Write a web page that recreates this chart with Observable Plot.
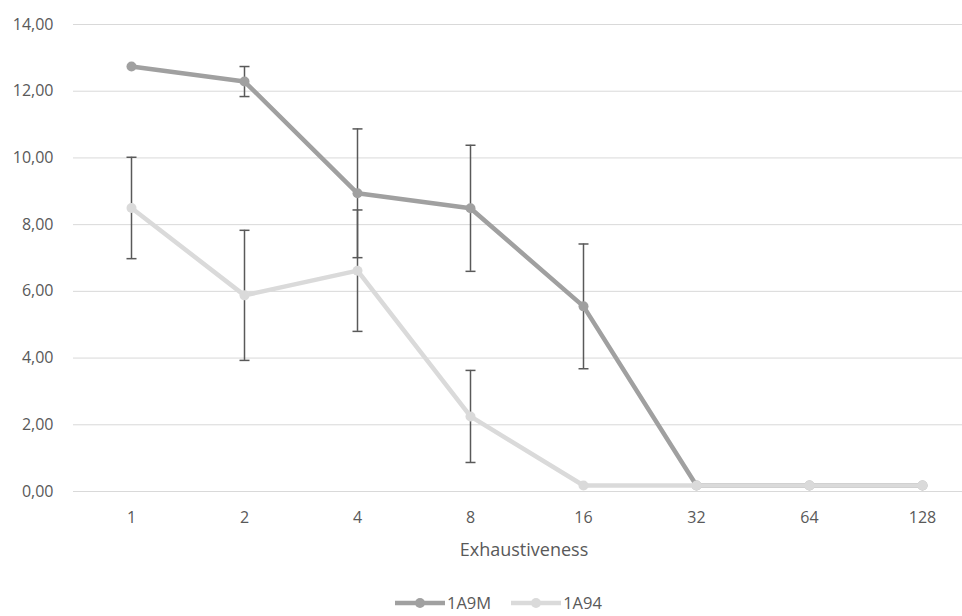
<!DOCTYPE html>
<html><head><meta charset="utf-8">
<script src="https://cdn.jsdelivr.net/npm/d3@7"></script>
<script src="https://cdn.jsdelivr.net/npm/@observablehq/plot@0.6"></script>
<style>
body{margin:0;background:#fff;font-family:"Open Sans",sans-serif;}
#wrap{position:relative;width:962px;height:616px;overflow:hidden;background:#fff;}
#legend{position:absolute;left:395px;top:592px;display:flex;align-items:center;font-size:16.5px;color:#595959;line-height:22px;}
#legend .item{display:flex;align-items:center;margin-right:20px;}
#legend svg{margin-right:2px;}
</style></head><body><div id="wrap"><div id="chart"></div><div id="legend"></div></div>
<script>
const categories = ["1","2","4","8","16","32","64","128"];
const seriesNames = ["1A9M","1A94"];
const seriesColors = ["#a0a0a0","#dadada"];
const a9m    = [12.74, 12.29, 8.94, 8.49, 5.55, 0.18, 0.18, 0.18];
const a9mErr = [0, 0.45, 1.93, 1.89, 1.87, 0, 0, 0];
const a94    = [8.50, 5.88, 6.62, 2.25, 0.18, 0.18, 0.18, 0.18];
const a94Err = [1.52, 1.95, 1.82, 1.38, 0, 0, 0, 0];
const yTicks = [0, 2, 4, 6, 8, 10, 12, 14];
const xTitle = "Exhaustiveness";

const rows = (name, vals, errs) => categories.map((c, i) => ({cat: c, series: name, value: vals[i], err: errs[i]}));
const dark = rows(seriesNames[0], a9m, a9mErr);
const light = rows(seriesNames[1], a94, a94Err);
const errs = [...dark, ...light].filter(d => d.err > 0);

// horizontal cap symbol for error bars
const capSymbol = {draw(ctx, size) { const w = Math.sqrt(size / Math.PI); ctx.moveTo(-w, 0); ctx.lineTo(w, 0); }};

const ink = "#595959";
const chart = Plot.plot({
  width: 962, height: 580,
  marginLeft: 73, marginRight: 0, marginTop: 24, marginBottom: 89,
  style: {fontFamily: "Open Sans", fontSize: "16px", color: ink, background: "white"},
  x: {type: "point", domain: categories, range: [129, 923], padding: 0},
  y: {domain: [0, 14]},
  color: {domain: seriesNames, range: seriesColors},
  marks: [
    Plot.ruleY(yTicks, {stroke: "#d9d9d9", strokeWidth: 1}),
    Plot.axisY(yTicks, {tickSize: 0, tickPadding: 20, label: null, tickFormat: d => d.toFixed(2).replace(".", ","), fill: ink}),
    Plot.axisX({tickSize: 0, tickPadding: 20, label: null, fill: ink}),
    Plot.text([xTitle], {frameAnchor: "bottom", dy: 59, dx: 6, lineAnchor: "middle", fill: ink, fontSize: 18, style: "letter-spacing:0.9px"}),
    Plot.ruleX(errs, {x: "cat", y1: d => d.value - d.err, y2: d => d.value + d.err, stroke: ink, strokeWidth: 1.5}),
    Plot.dot(errs, {x: "cat", y: d => d.value + d.err, symbol: capSymbol, r: 5, stroke: ink, strokeWidth: 1.5, fill: "none"}),
    Plot.dot(errs, {x: "cat", y: d => d.value - d.err, symbol: capSymbol, r: 5, stroke: ink, strokeWidth: 1.5, fill: "none"}),
    Plot.line(dark, {x: "cat", y: "value", stroke: "series", strokeWidth: 4.5}),
    Plot.dot(dark, {x: "cat", y: "value", fill: "series", r: 5}),
    Plot.line(light, {x: "cat", y: "value", stroke: "series", strokeWidth: 4.5}),
    Plot.dot(light, {x: "cat", y: "value", fill: "series", r: 5})
  ]
});
document.getElementById("chart").appendChild(chart);

const legend = document.getElementById("legend");
seriesNames.forEach((name, i) => {
  const item = document.createElement("div");
  item.className = "item";
  item.innerHTML = `<svg width="50" height="12"><line x1="0" y1="6" x2="50" y2="6" stroke="${seriesColors[i]}" stroke-width="4.5"/><circle cx="25" cy="6" r="5" fill="${seriesColors[i]}"/></svg><span>${name}</span>`;
  legend.appendChild(item);
});
</script></body></html>
